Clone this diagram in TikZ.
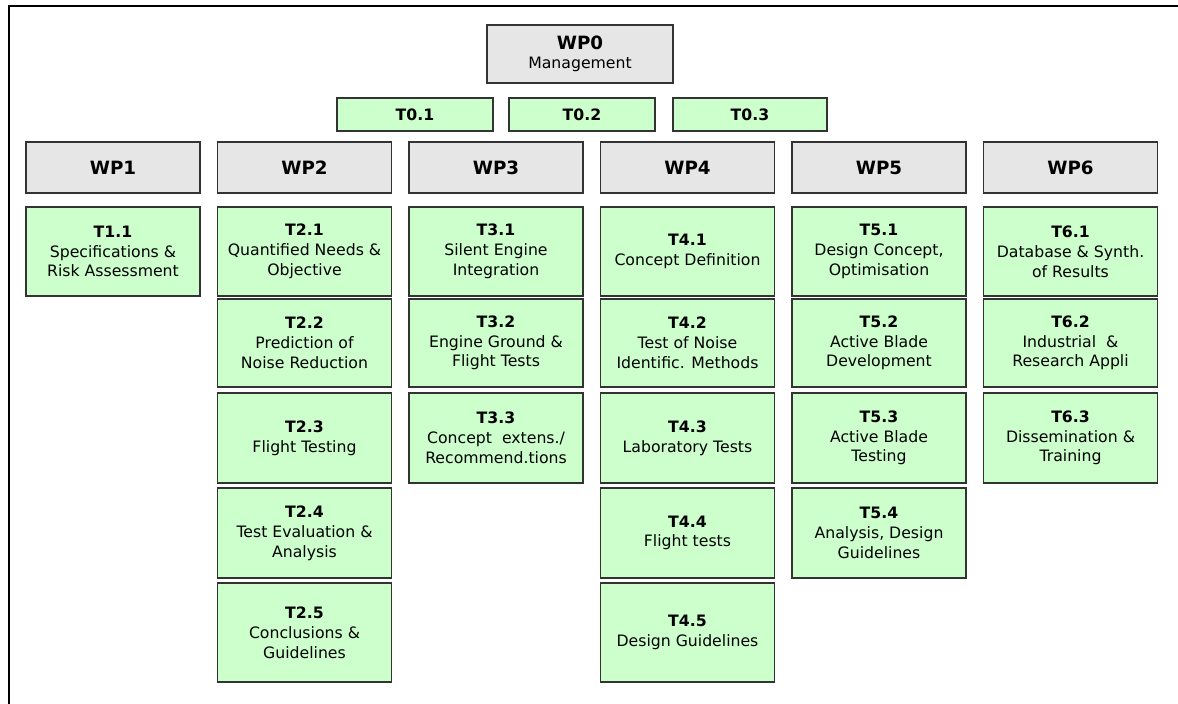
\documentclass[tikz,border=0pt]{standalone}
\usepackage{fontspec}
\setmainfont{DejaVu Sans}
\usepackage{tikz}
\definecolor{wpgray}{HTML}{E6E6E6}
\definecolor{taskgreen}{HTML}{CCFFCC}
\begin{document}
\begin{tikzpicture}[x=1pt,y=-1pt,every text node part/.style={align=center},
		wpbox/.style={draw=black!80,line width=1.2pt,fill=wpgray,inner sep=0pt,minimum width=174pt,minimum height=51pt,font=\bfseries\fontsize{18.3}{22}\selectfont},
		taskbox/.style={draw=black!80,line width=1.2pt,fill=taskgreen,inner sep=0pt,minimum width=174pt,font=\fontsize{15.7}{19.8}\selectfont},
		mgmtbox/.style={draw=black!80,line width=1.2pt,fill=taskgreen,inner sep=0pt,minimum height=33pt,font=\bfseries\fontsize{15.7}{19}\selectfont}]
		\useasboundingbox (0,0) rectangle (1178,704);
		%frame
		\draw[line width=2.2pt] (8.7,704) -- (8.7,6) -- (1178,6);
		
		%management
		\node[wpbox,minimum width=186pt,minimum height=58pt,font=\fontsize{15.7}{19.5}\selectfont] (wp0) at (580,54) {{\bfseries\fontsize{18.3}{22}\selectfont WP0}\\Management};
		\node[mgmtbox,minimum width=156pt] (t01) at (415,114.5) {T0.1};
		\node[mgmtbox,minimum width=146pt] (t02) at (582,114.5) {T0.2};
		\node[mgmtbox,minimum width=154pt] (t03) at (750,114.5) {T0.3};
		
		%work packages
		\node[wpbox] (wp1) at (113,167.5) {WP1};
		\node[wpbox] (wp2) at (304.5,167.5) {WP2};
		\node[wpbox] (wp3) at (496,167.5) {WP3};
		\node[wpbox] (wp4) at (687.5,167.5) {WP4};
		\node[wpbox] (wp5) at (879,167.5) {WP5};
		\node[wpbox] (wp6) at (1070.5,167.5) {WP6};
		
		%tasks row 1
		\node[taskbox,minimum height=89pt] (t11) at (113,251.5) {\textbf{T1.1}\\Specifications \&\\Risk Assessment};
		\node[taskbox,minimum height=89pt] (t21) at (304.5,251.5) {\textbf{T2.1}\\Quantified Needs \&\\Objective};
		\node[taskbox,minimum height=89pt] (t31) at (496,251.5) {\textbf{T3.1}\\Silent Engine\\Integration};
		\node[taskbox,minimum height=89pt] (t41) at (687.5,251.5) {\textbf{T4.1}\\Concept Definition};
		\node[taskbox,minimum height=89pt] (t51) at (879,251.5) {\textbf{T5.1}\\Design Concept,\\Optimisation};
		\node[taskbox,minimum height=89pt] (t61) at (1070.5,251.5) {\textbf{T6.1}\\Database \& Synth.\\of Results};
		
		%tasks row 2
		\node[taskbox,minimum height=88pt] (t22) at (304.5,343) {\textbf{T2.2}\\Prediction of\\Noise Reduction};
		\node[taskbox,minimum height=88pt] (t32) at (496,343) {\textbf{T3.2}\\Engine Ground \&\\Flight Tests};
		\node[taskbox,minimum height=88pt] (t42) at (687.5,343) {\textbf{T4.2}\\Test of Noise\\Identific. Methods};
		\node[taskbox,minimum height=88pt] (t52) at (879,343) {\textbf{T5.2}\\Active Blade\\Development};
		\node[taskbox,minimum height=88pt] (t62) at (1070.5,343) {\textbf{T6.2}\\Industrial\ \ \&\\Research Appli};
		
		%tasks row 3
		\node[taskbox,minimum height=90pt] (t23) at (304.5,438) {\textbf{T2.3}\\Flight Testing};
		\node[taskbox,minimum height=90pt] (t33) at (496,438) {\textbf{T3.3}\\Concept\ \ extens./\\Recommend.tions};
		\node[taskbox,minimum height=90pt] (t43) at (687.5,438) {\textbf{T4.3}\\Laboratory Tests};
		\node[taskbox,minimum height=90pt] (t53) at (879,438) {\textbf{T5.3}\\Active Blade\\Testing};
		\node[taskbox,minimum height=90pt] (t63) at (1070.5,438) {\textbf{T6.3}\\Dissemination \&\\Training};
		
		%tasks row 4
		\node[taskbox,minimum height=90pt] (t24) at (304.5,533) {\textbf{T2.4}\\Test Evaluation \&\\Analysis};
		\node[taskbox,minimum height=90pt] (t44) at (687.5,533) {\textbf{T4.4}\\Flight tests};
		\node[taskbox,minimum height=90pt] (t54) at (879,533) {\textbf{T5.4}\\Analysis, Design\\Guidelines};
		
		%tasks row 5
		\node[taskbox,minimum height=99pt] (t25) at (304.5,632.5) {\textbf{T2.5}\\Conclusions \&\\Guidelines};
		\node[taskbox,minimum height=99pt] (t45) at (687.5,632.5) {\textbf{T4.5}\\Design Guidelines};
		
\end{tikzpicture}
\end{document}
